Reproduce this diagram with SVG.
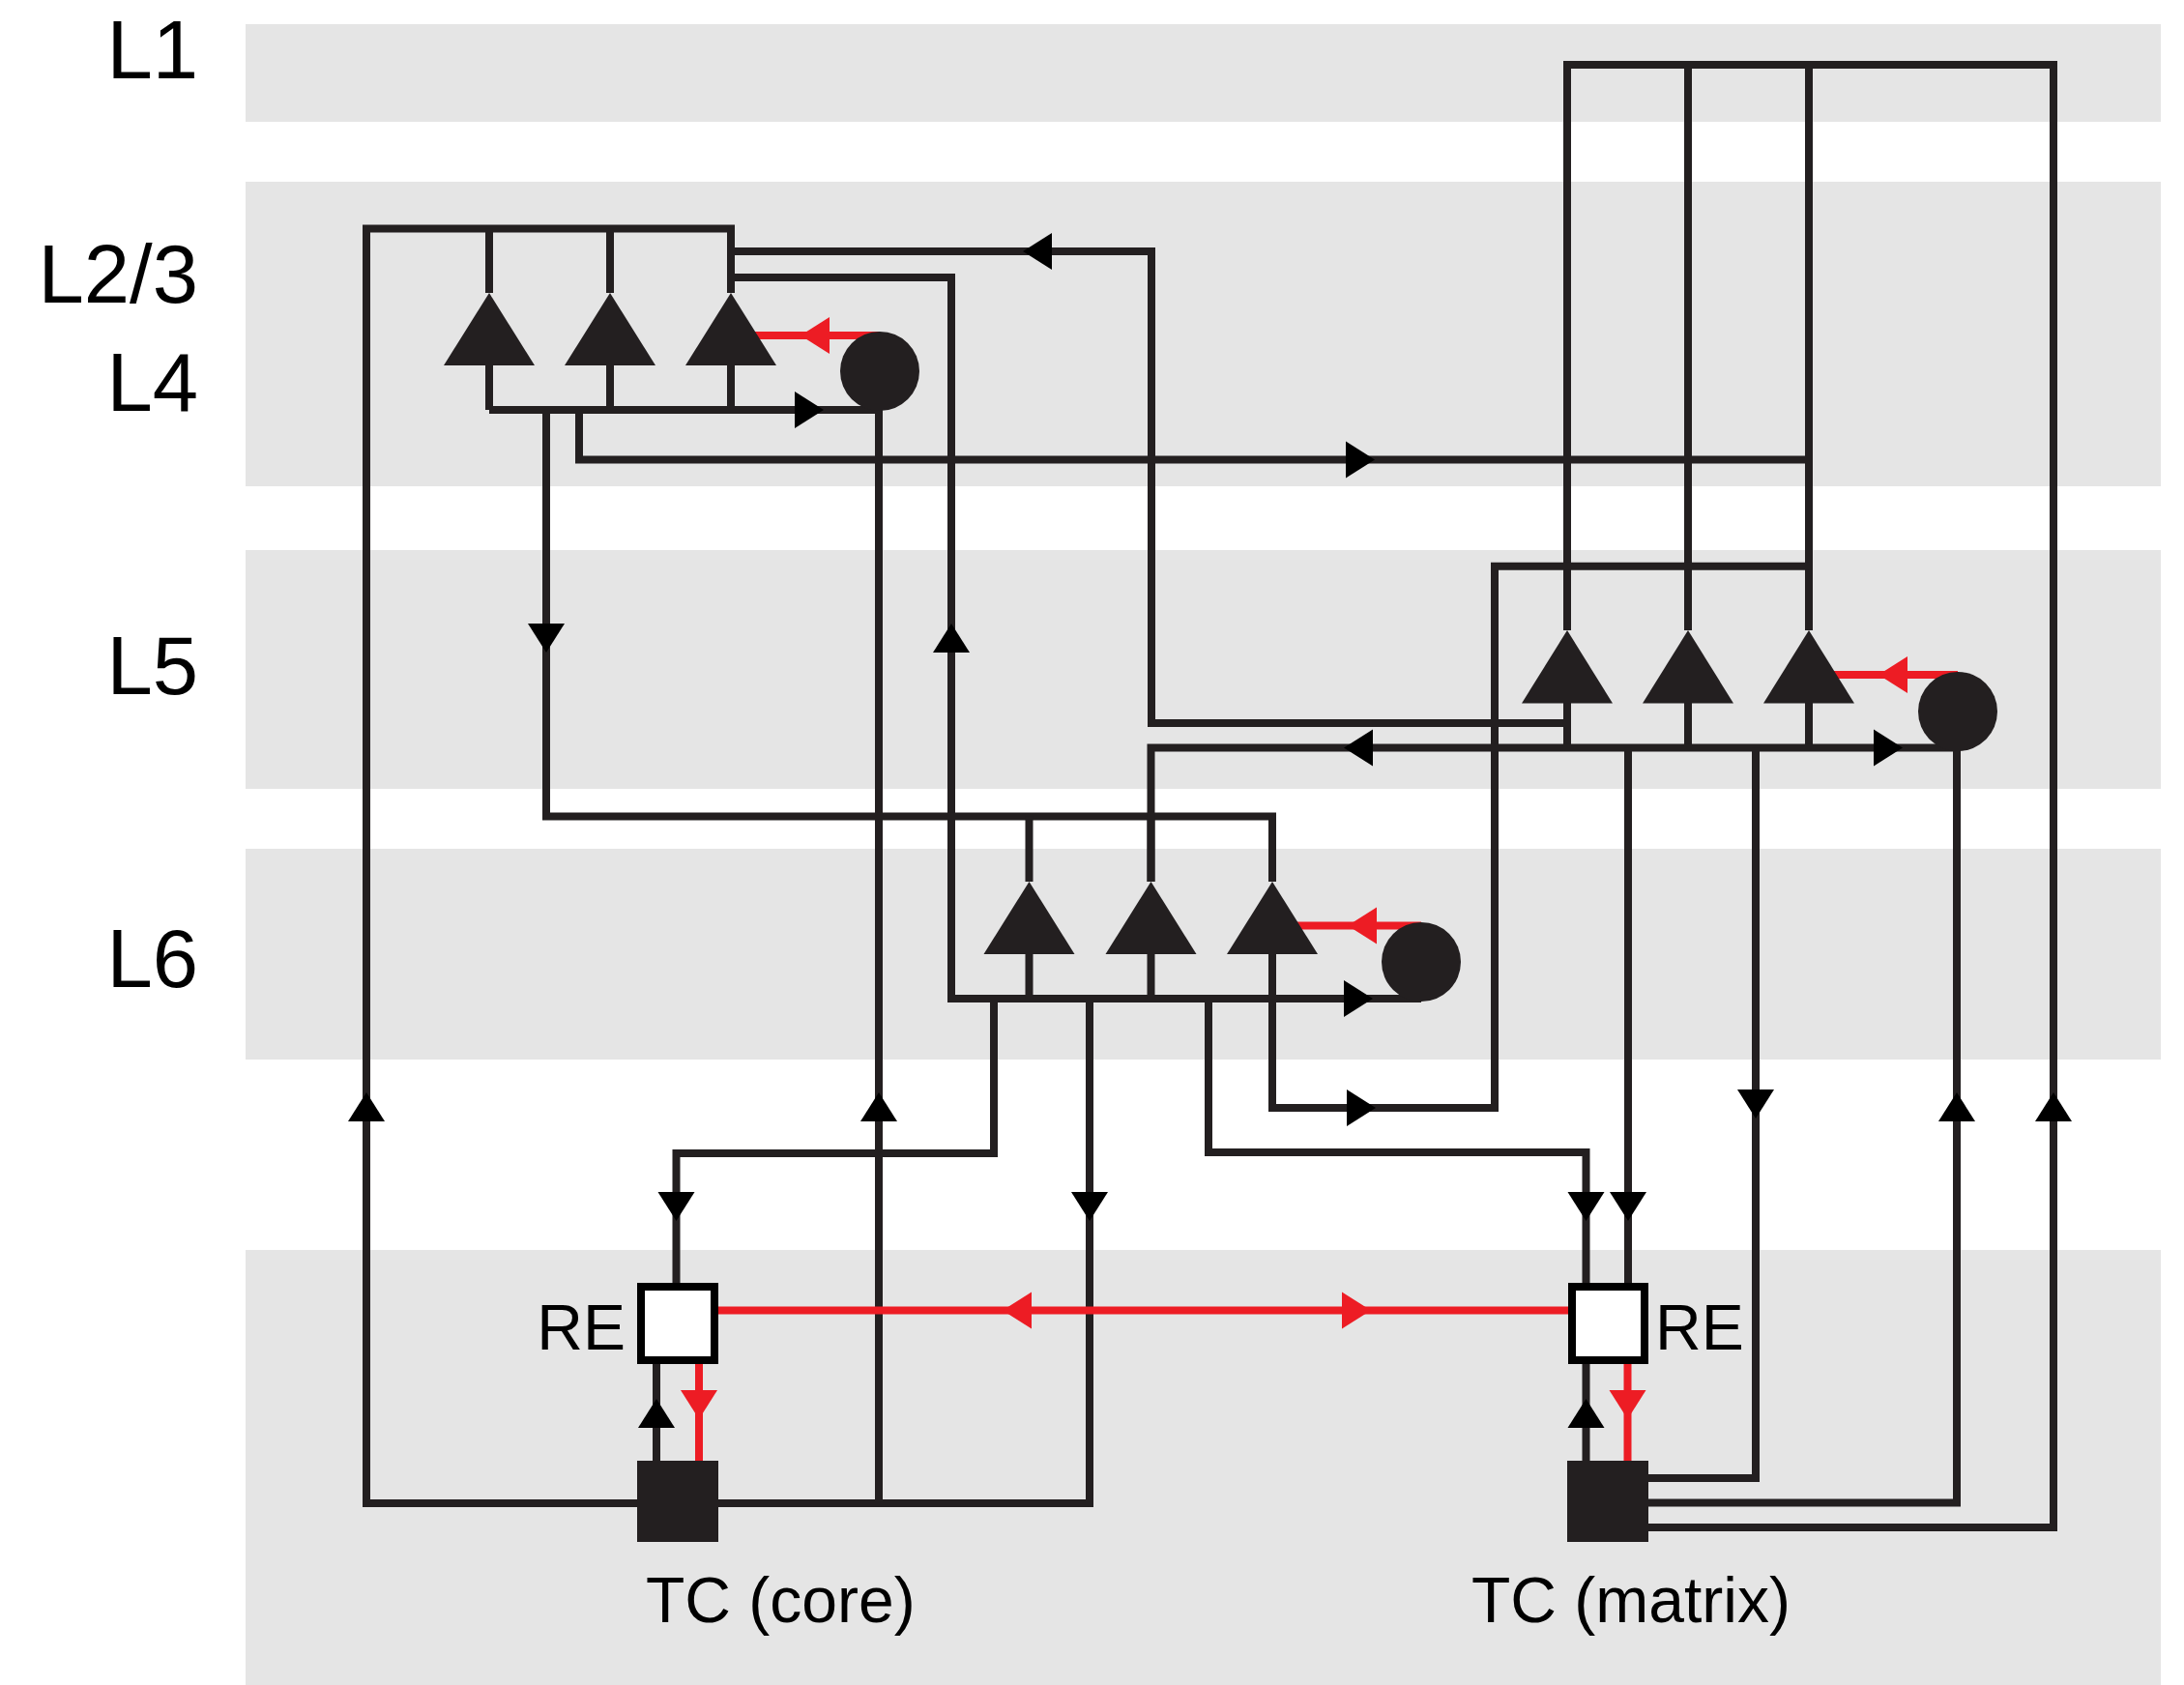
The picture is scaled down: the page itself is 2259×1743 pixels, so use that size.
<svg xmlns="http://www.w3.org/2000/svg" xmlns:xlink="http://www.w3.org/1999/xlink" width="2259" height="1743" viewBox="0 0 2259 1743">
<style>
.band{fill:#e5e5e5}
.ln{fill:none;stroke:#231f20;stroke-width:8;stroke-linejoin:miter;stroke-linecap:butt}
.rd{fill:none;stroke:#ed1c24;stroke-width:8}
.cell{fill:#231f20}
.re{fill:#fff;stroke:#000;stroke-width:8}
.lab{font-family:"Liberation Sans",Arial,sans-serif;font-size:85px;fill:#000;text-anchor:end}
.txt{font-family:"Liberation Sans",Arial,sans-serif;font-size:66px;fill:#000}
.ab{fill:#000}
.ar{fill:#ed1c24}
</style>
<defs>
<path id="ah" d="M0,0 L-30,-19 L-30,19 Z"/>
</defs>
<g id="bands">
<rect class="band" x="254" y="25" width="1981" height="101"/>
<rect class="band" x="254" y="188" width="1981" height="315"/>
<rect class="band" x="254" y="569" width="1981" height="247"/>
<rect class="band" x="254" y="878" width="1981" height="218"/>
<rect class="band" x="254" y="1293" width="1981" height="450"/>
</g>
<g id="layer-labels">
<text class="lab" x="205" y="81">L1</text>
<text class="lab" x="205" y="313">L2/3</text>
<text class="lab" x="205" y="425">L4</text>
<text class="lab" x="205" y="718">L5</text>
<text class="lab" x="205" y="1021">L6</text>
</g>
<g id="connectors">
<!-- L2/3 -->
<path class="ln" d="M760,236.5 H379 V1555 H1127 V1033"/>
<path class="ln" d="M506,236.5 V303 M631,236.5 V303 M756,236.5 V303"/>
<path class="ln" d="M756,260 H1191 V748 H1621"/>
<path class="ln" d="M756,287 H984 V1033 H1470"/>
<path class="ln" d="M506,378 V424 M631,378 V424 M756,378 V424"/>
<path class="ln" d="M506,424 H910"/>
<path class="ln" d="M565,424 V844.5 H1316 V912"/>
<path class="ln" d="M1064.5,844.5 V912 M1190.5,844.5 V912"/>
<path class="ln" d="M599,424 V475.5 H1871"/>
<path class="ln" d="M909,384 V1555"/>
<path class="rd" d="M756,347 H910"/>
<!-- L1 -->
<path class="ln" d="M1621,652 V67 H2124 V1580 H1705"/>
<path class="ln" d="M1746,67 V652 M1871,67 V652"/>
<!-- L5 -->
<path class="ln" d="M1621,727 V773.5 M1746,727 V773.5 M1871,727 V773.5"/>
<path class="ln" d="M1190.5,912 V773.5 H2025"/>
<path class="ln" d="M1871,585.8 H1546 V1146 H1316 V987"/>
<path class="ln" d="M1684,773.5 V1331"/>
<path class="ln" d="M1816,773.5 V1529 H1705"/>
<path class="ln" d="M2024,736 V1554.5 H1705"/>
<path class="rd" d="M1871,698 H2025"/>
<!-- L6 -->
<path class="ln" d="M1064.5,987 V1033 M1190.5,987 V1033"/>
<path class="ln" d="M1028,1033 V1193 H699.5 V1331"/>
<path class="ln" d="M1250,1033 V1192 H1640.5 V1331"/>
<path class="rd" d="M1316,957.4 H1470"/>
<!-- thalamus -->
<path class="rd" d="M743,1355.5 H1622"/>
<path class="ln" d="M679,1411 V1511 M1640.5,1411 V1511"/>
<path class="rd" d="M723,1411 V1511 M1683.5,1411 V1511"/>
<!-- arrowheads -->
<g class="ab">
<use xlink:href="#ah" transform="translate(1058,260) rotate(180)"/>
<use xlink:href="#ah" transform="translate(852,424)"/>
<use xlink:href="#ah" transform="translate(565,675) rotate(90)"/>
<use xlink:href="#ah" transform="translate(984,645) rotate(-90)"/>
<use xlink:href="#ah" transform="translate(1422,475.5)"/>
<use xlink:href="#ah" transform="translate(1390,773.5) rotate(180)"/>
<use xlink:href="#ah" transform="translate(1968,773.5)"/>
<use xlink:href="#ah" transform="translate(1420,1033)"/>
<use xlink:href="#ah" transform="translate(1423,1146)"/>
<use xlink:href="#ah" transform="translate(379,1130) rotate(-90)"/>
<use xlink:href="#ah" transform="translate(909,1130) rotate(-90)"/>
<use xlink:href="#ah" transform="translate(2024,1130) rotate(-90)"/>
<use xlink:href="#ah" transform="translate(2124,1130) rotate(-90)"/>
<use xlink:href="#ah" transform="translate(1816,1157) rotate(90)"/>
<use xlink:href="#ah" transform="translate(699.5,1263) rotate(90)"/>
<use xlink:href="#ah" transform="translate(1127,1263) rotate(90)"/>
<use xlink:href="#ah" transform="translate(1640.5,1263) rotate(90)"/>
<use xlink:href="#ah" transform="translate(1684,1263) rotate(90)"/>
<use xlink:href="#ah" transform="translate(679,1447) rotate(-90)"/>
<use xlink:href="#ah" transform="translate(1640.5,1447) rotate(-90)"/>
</g>
<g class="ar">
<use xlink:href="#ah" transform="translate(828,347) rotate(180)"/>
<use xlink:href="#ah" transform="translate(1943,698) rotate(180)"/>
<use xlink:href="#ah" transform="translate(1394,957.4) rotate(180)"/>
<use xlink:href="#ah" transform="translate(1037,1355.5) rotate(180)"/>
<use xlink:href="#ah" transform="translate(1418,1355.5)"/>
<use xlink:href="#ah" transform="translate(723,1468) rotate(90)"/>
<use xlink:href="#ah" transform="translate(1683.5,1468) rotate(90)"/>
</g>
</g>
<g id="L23-pyr-1"><polygon class="cell" points="506,303 459,378 553,378"/></g>
<g id="L23-pyr-2"><polygon class="cell" points="631,303 584,378 678,378"/></g>
<g id="L23-pyr-3"><polygon class="cell" points="756,303 709,378 803,378"/></g>
<g id="L4-inter"><circle class="cell" cx="910" cy="384" r="41"/></g>
<g id="L5-pyr-1"><polygon class="cell" points="1621,652 1574,727.5 1668,727.5"/></g>
<g id="L5-pyr-2"><polygon class="cell" points="1746,652 1699,727.5 1793,727.5"/></g>
<g id="L5-pyr-3"><polygon class="cell" points="1871,652 1824,727.5 1918,727.5"/></g>
<g id="L5-inter"><circle class="cell" cx="2025" cy="736" r="41"/></g>
<g id="L6-pyr-1"><polygon class="cell" points="1064.5,912 1017.5,987 1111.5,987"/></g>
<g id="L6-pyr-2"><polygon class="cell" points="1190.5,912 1143.5,987 1237.5,987"/></g>
<g id="L6-pyr-3"><polygon class="cell" points="1316,912 1269,987 1363,987"/></g>
<g id="L6-inter"><circle class="cell" cx="1470" cy="995" r="41"/></g>
<g id="RE-core">
<rect class="re" x="663" y="1331" width="76" height="76"/>
<text class="txt" x="647" y="1396" text-anchor="end">RE</text>
</g>
<g id="RE-matrix">
<rect class="re" x="1626" y="1331" width="75" height="76"/>
<text class="txt" x="1712" y="1396">RE</text>
</g>
<g id="TC-core">
<rect class="cell" x="659" y="1511" width="84" height="84"/>
<text class="txt" x="668" y="1678">TC (core)</text>
</g>
<g id="TC-matrix">
<rect class="cell" x="1621" y="1511" width="84" height="84"/>
<text class="txt" x="1522" y="1678">TC (matrix)</text>
</g>
</svg>
